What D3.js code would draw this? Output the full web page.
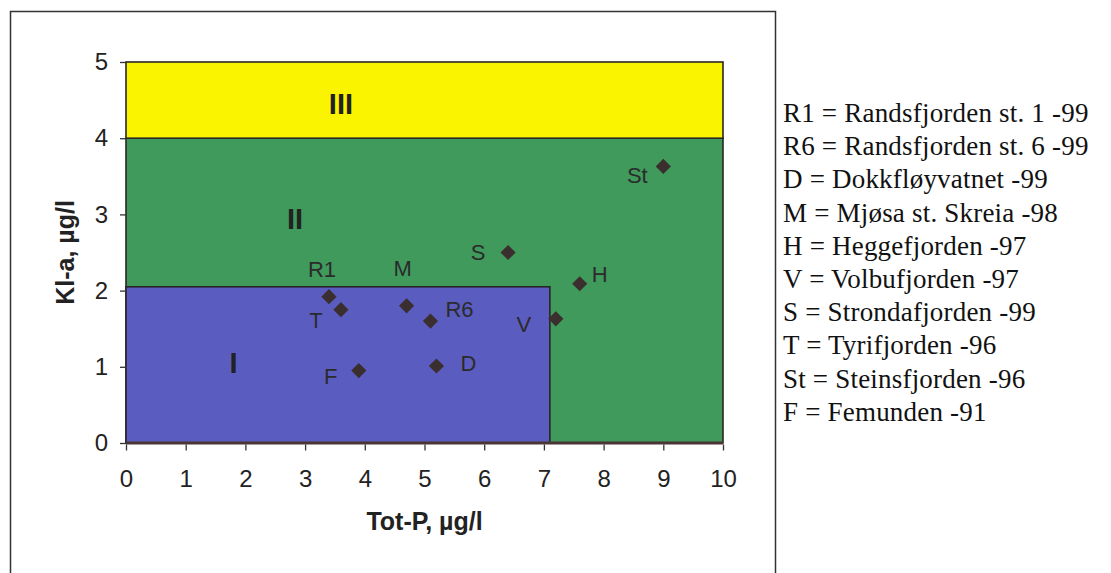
<!DOCTYPE html>
<html><head><meta charset="utf-8">
<script src="https://cdn.jsdelivr.net/npm/d3@7"></script>
<style>body{margin:0;background:#fff}</style>
</head><body><svg id="c" width="1111" height="573"></svg>
<script>
// ---- data ----
const codes = ["R1","R6","D","M","H","V","S","T","St","F"];
const totP  = [3.4, 5.1, 5.2, 4.7, 7.6, 7.2, 6.4, 3.6, 9.0, 3.9];
const klA   = [1.92,1.6, 1.01,1.8, 2.09,1.63,2.5, 1.75,3.63,0.95];
const legendLines = [
  "R1 = Randsfjorden st. 1 -99",
  "R6 = Randsfjorden st. 6 -99",
  "D = Dokkfløyvatnet -99",
  "M = Mjøsa st. Skreia -98",
  "H = Heggefjorden -97",
  "V = Volbufjorden -97",
  "S = Strondafjorden -99",
  "T = Tyrifjorden -96",
  "St = Steinsfjorden -96",
  "F = Femunden -91"
];
const zoneNames = ["II","III","I"];
const zoneX0 = [0, 0, 0];
const zoneX1 = [10, 10, 7.1];
const zoneY0 = [0, 4, 0];
const zoneY1 = [4, 5, 2.05];
const xTicks = [0,1,2,3,4,5,6,7,8,9,10];
const yTicks = [0,1,2,3,4,5];
const xTitle = "Tot-P, µg/l";
const yTitle = "Kl-a, µg/l";

// ---- layout (positions/styles) ----
const zoneColors = ["#3f9a5c", "#fbf400", "#5a5cc0"];
const zoneLabelPos = [[2.83, 2.94], [3.6, 4.45], [1.8, 1.05]];
const labelOffset = {R1:[-7,-27], R6:[29,-12], D:[32,-3], M:[-4,-37], H:[20,-9],
                     V:[-32,6], S:[-30,0], T:[-25,11], St:[-26,9], F:[-28,6]};

const svg = d3.select("#c");
svg.append("rect").attr("width",1111).attr("height",573).attr("fill","#fff");
// outer frame
svg.append("rect").attr("x",10.5).attr("y",11.5).attr("width",765).attr("height",600)
  .attr("fill","none").attr("stroke","#333").attr("stroke-width",1.5);

const x = d3.scaleLinear().domain([0,10]).range([126,723]);
const y = d3.scaleLinear().domain([0,5]).range([443,62]);

// zones
const zones = zoneNames.map((n,i)=>({n, x0:zoneX0[i], x1:zoneX1[i], y0:zoneY0[i], y1:zoneY1[i], c:zoneColors[i], p:zoneLabelPos[i]}));
svg.selectAll("rect.zone").data(zones).join("rect").attr("class","zone")
  .attr("x",d=>x(d.x0)).attr("y",d=>y(d.y1))
  .attr("width",d=>x(d.x1)-x(d.x0)).attr("height",d=>y(d.y0)-y(d.y1))
  .attr("fill",d=>d.c).attr("stroke","#2a2626").attr("stroke-width",1.6);

svg.selectAll("text.zl").data(zones).join("text").attr("class","zl")
  .attr("x",d=>x(d.p[0])).attr("y",d=>y(d.p[1]))
  .attr("text-anchor","middle").attr("dominant-baseline","central")
  .attr("font-family","Liberation Sans, Arial, sans-serif").attr("font-weight","bold")
  .attr("font-size",29).attr("fill","#222").text(d=>d.n);

// bottom axis line (thick)
svg.append("line").attr("x1",x(0)).attr("x2",x(10)).attr("y1",y(0)).attr("y2",y(0))
  .attr("stroke","#4a3535").attr("stroke-width",3);

// axes
const ax = svg.append("g").attr("transform",`translate(0,${y(0)+1.5})`)
  .call(d3.axisBottom(x).tickValues(xTicks).tickSize(6).tickPadding(19).tickFormat(d3.format("d")));
const ay = svg.append("g").attr("transform",`translate(${x(0)},0)`)
  .call(d3.axisLeft(y).tickValues(yTicks).tickSize(6).tickPadding(12).tickFormat(d3.format("d")));
[ax,ay].forEach(g=>{
  g.select(".domain").remove();
  g.selectAll("line").attr("stroke","#333").attr("stroke-width",1.3);
  g.selectAll("text").attr("font-family","Liberation Sans, Arial, sans-serif")
    .attr("font-size",24).attr("fill","#222");
});

// points
const pts = codes.map((c,i)=>({c, xv:totP[i], yv:klA[i]}));
const sym = d3.symbol().type(d3.symbolSquare).size(115);
svg.selectAll("path.pt").data(pts).join("path").attr("class","pt")
  .attr("d",sym)
  .attr("transform",d=>`translate(${x(d.xv)},${y(d.yv)}) rotate(45)`)
  .attr("fill","#3b2e2e");

svg.selectAll("text.pl").data(pts).join("text").attr("class","pl")
  .attr("x",d=>x(d.xv)+labelOffset[d.c][0]).attr("y",d=>y(d.yv)+labelOffset[d.c][1])
  .attr("text-anchor","middle").attr("dominant-baseline","central")
  .attr("font-family","Liberation Sans, Arial, sans-serif")
  .attr("font-size",22).attr("fill","#2b2b2b").text(d=>d.c);

// axis titles
svg.append("text").attr("x",(x(0)+x(10))/2).attr("y",521)
  .attr("text-anchor","middle").attr("dominant-baseline","central")
  .attr("font-family","Liberation Sans, Arial, sans-serif").attr("font-weight","bold")
  .attr("font-size",25).attr("fill","#222").text(xTitle);
svg.append("text").attr("transform",`translate(65,${(y(0)+y(5))/2}) rotate(-90)`)
  .attr("text-anchor","middle").attr("dominant-baseline","central")
  .attr("font-family","Liberation Sans, Arial, sans-serif").attr("font-weight","bold")
  .attr("font-size",25).attr("fill","#222").text(yTitle);

// legend
svg.selectAll("text.lg").data(legendLines).join("text").attr("class","lg")
  .attr("x",783).attr("y",(d,i)=>122+i*33.2)
  .attr("font-family","Liberation Serif, Times New Roman, serif")
  .attr("font-size",27).attr("letter-spacing",0.2).attr("fill","#111").text(d=>d);
</script></body></html>
